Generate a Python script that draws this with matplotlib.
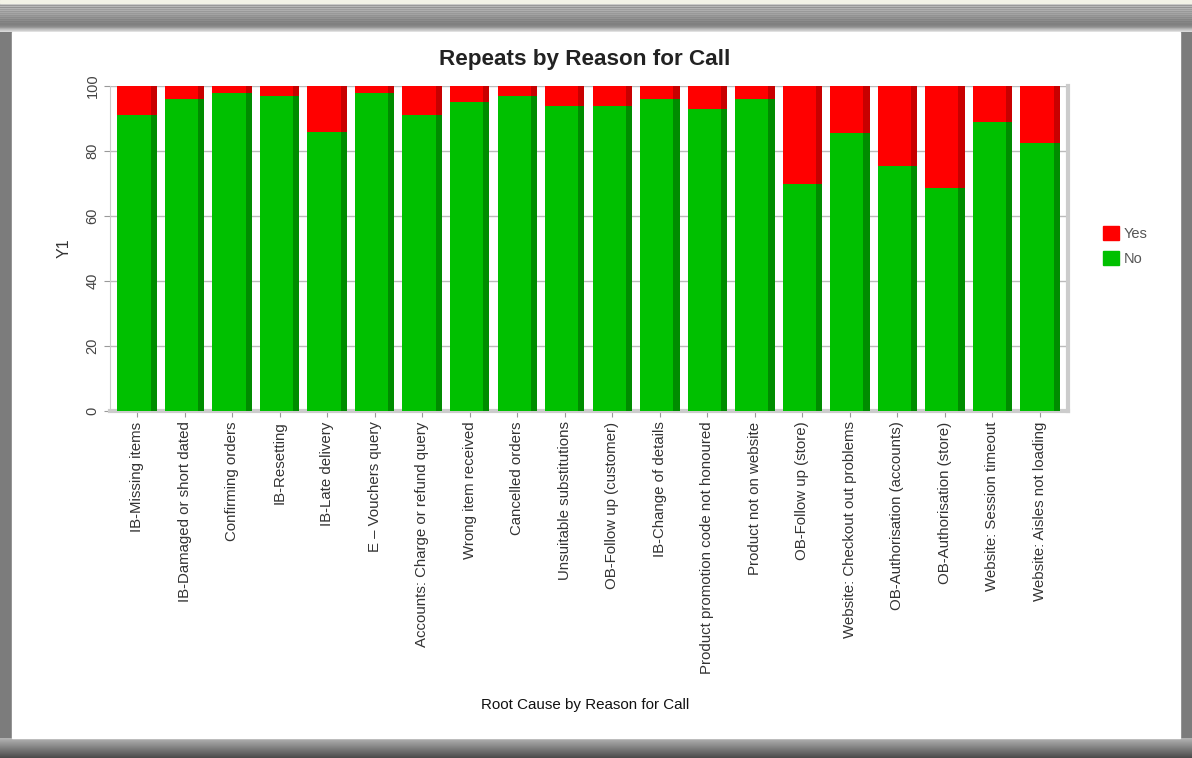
import numpy as np
import matplotlib.pyplot as plt
from matplotlib.patches import Rectangle, Patch

# Daten: Anteil "No" / "Yes" je Anrufgrund (in %)
reasons = ['IB-Missing items', 'IB-Damaged or short dated', 'Confirming orders',
           'IB-Resetting', 'IB-Late delivery', 'E \u2013 Vouchers query',
           'Accounts: Charge or refund query', 'Wrong item received',
           'Cancelled orders', 'Unsuitable substitutions', 'OB-Follow up (customer)',
           'IB-Change of details', 'Product promotion code not honoured',
           'Product not on website', 'OB-Follow up (store)',
           'Website: Checkout out problems', 'OB-Authorisation (accounts)',
           'OB-Authorisation (store)', 'Website: Session timeout',
           'Website: Aisles not loading']
no_vals = [91, 96, 98, 97, 86, 98, 91, 95, 97, 94,
           94, 96, 93, 96, 70, 85.5, 75.5, 68.5, 89, 82.5]
yes_vals = [100 - v for v in no_vals]
y_ticks = [0, 20, 40, 60, 80, 100]

plt.rcParams['font.family'] = ['Liberation Sans', 'DejaVu Sans']

fig = plt.figure(figsize=(11.92, 7.58), dpi=100)

# --- Fensterrahmen (Hintergrund) ---
bg = fig.add_axes([0, 0, 1, 1], zorder=-5)
bg.add_patch(Rectangle((0, 0), 1192, 758, color='#7c7c7c', zorder=0))
grad = np.array([0.62, 0.55, 0.75, 0.6, 0.72, 0.58, 0.7, 0.62, 0.68, 0.6,
                 0.66, 0.6, 0.64, 0.58, 0.6, 0.55, 0.58, 0.52, 0.55, 0.5,
                 0.52, 0.5, 0.5, 0.52, 0.55, 0.6, 0.68, 0.75, 0.8, 0.85])[:, None]
bg.imshow(np.repeat(grad, 2, axis=1), extent=(0, 1192, 32, 2), cmap='gray',
          vmin=0, vmax=1, aspect='auto', zorder=1)
grad_b = np.linspace(0.7, 0.3, 22)[:, None]
bg.imshow(np.repeat(grad_b, 2, axis=1), extent=(0, 1192, 758, 738), cmap='gray',
          vmin=0, vmax=1, aspect='auto', zorder=1)
bg.add_patch(Rectangle((0, 0), 1192, 3, color='#f2f2e6', zorder=2))
bg.add_patch(Rectangle((12, 32), 1168, 706, color='white', zorder=2))
bg.set_xlim(0, 1192)
bg.set_ylim(758, 0)
bg.axis('off')

# --- Diagramm ---
ax = fig.add_axes([110 / 1192, 1 - 411 / 758, 958 / 1192, 325 / 758])
x = np.arange(len(reasons))
w = 0.7
side = 0.13
ax.bar(x - side / 2, no_vals, width=w, color='#00c000', zorder=3)
ax.bar(x - side / 2, yes_vals, width=w, bottom=no_vals, color='#ff0000', zorder=3)
ax.bar(x + w / 2, no_vals, width=side, color='#008c00', zorder=3)
ax.bar(x + w / 2, yes_vals, width=side, bottom=no_vals, color='#c80000', zorder=3)

ax.set_xlim(-0.57, len(reasons) - 0.41)
ax.set_ylim(0, 100)
ax.set_yticks(y_ticks)
ax.set_yticklabels([str(t) for t in y_ticks], rotation=90, va='center',
                   fontsize=10.5, color='#444444')
ax.set_xticks(x)
ax.set_xticklabels(reasons, rotation=90, fontsize=10.8, color='#333333')
ax.tick_params(axis='both', length=4, color='#999999')
ax.grid(axis='y', color='#bbbbbb', lw=1, zorder=0)
ax.spines['top'].set_visible(False)
ax.spines['left'].set_color('#cccccc')
for s in ['right', 'bottom']:
    ax.spines[s].set_color('#cccccc')
    ax.spines[s].set_linewidth(3)

ax.set_ylabel('Y1', fontsize=11.5, color='#333333', labelpad=10)
fig.text(585 / 1192, 1 - 705 / 758, 'Root Cause by Reason for Call',
         ha='center', va='center', fontsize=10.9, color='#111111')
fig.text(585 / 1192, 1 - 60 / 758, 'Repeats by Reason for Call',
         ha='center', va='center', fontsize=16.2, fontweight='bold', color='#222222')

# Legende
handles = [Patch(color='#ff0000', label='Yes'), Patch(color='#00c000', label='No')]
fig.legend(handles=handles, loc='center left',
           bbox_to_anchor=(1090 / 1192, 1 - 246 / 758), frameon=False,
           fontsize=10.5, handlelength=1.1, handleheight=1.1,
           handletextpad=0.3, labelspacing=0.75, labelcolor='#555555')

fig.savefig('out.png', dpi=100)
